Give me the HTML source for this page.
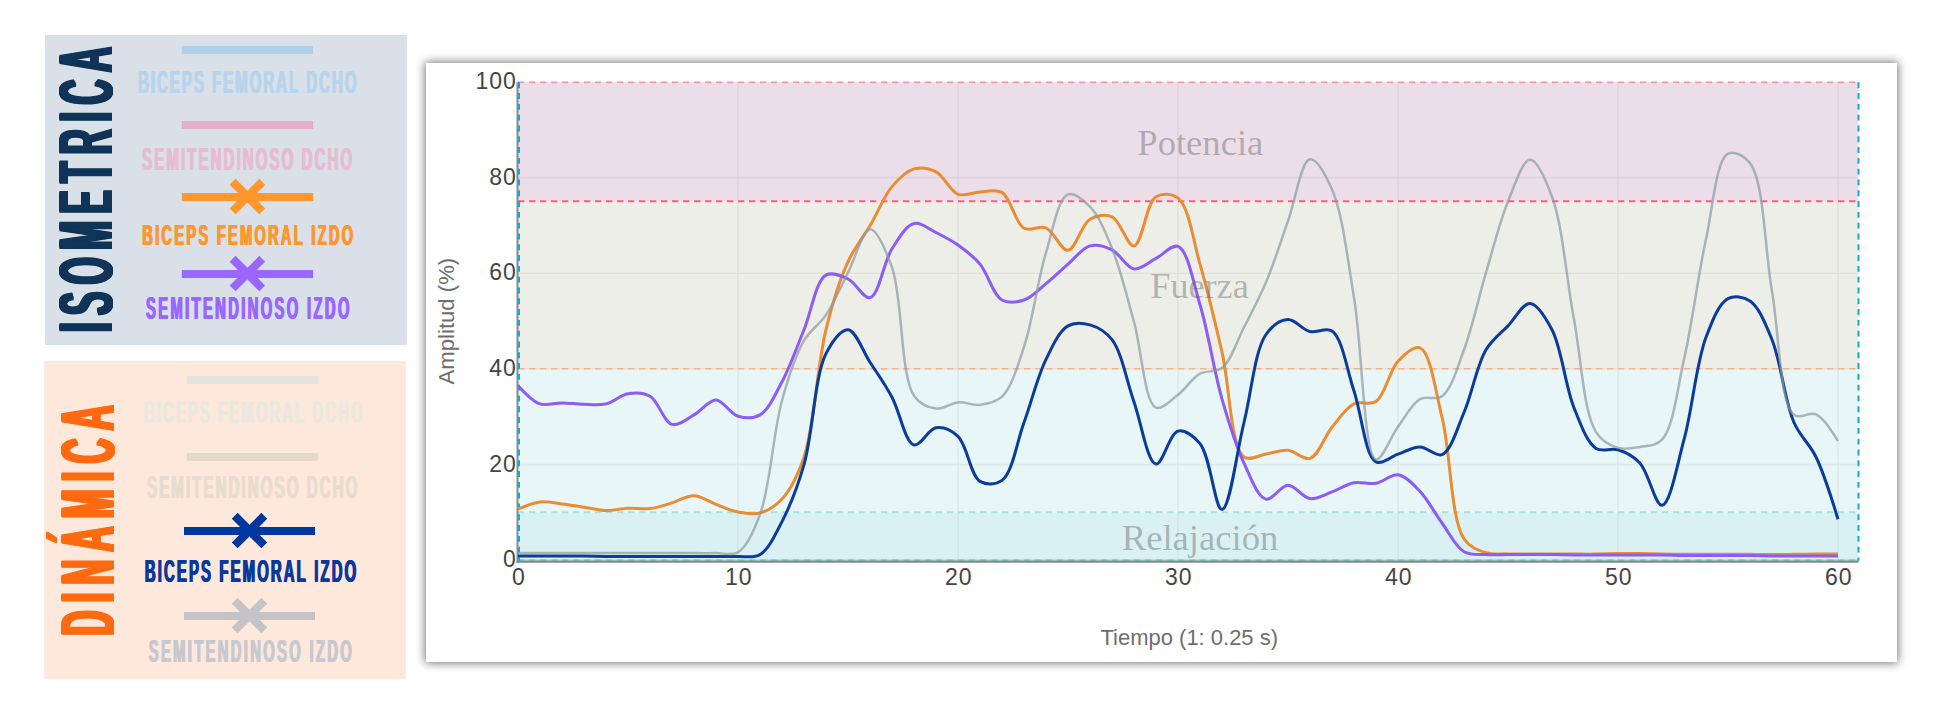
<!DOCTYPE html>
<html><head><meta charset="utf-8"><title>EMG</title>
<style>
html,body{margin:0;padding:0;background:#fff;}
body{width:1934px;height:728px;position:relative;overflow:hidden;font-family:"Liberation Sans",sans-serif;}
.p1{position:absolute;left:45px;top:35px;width:362px;height:310px;background:#d9e0e8;}
.p2{position:absolute;left:44px;top:361px;width:362px;height:318px;background:#fee8dc;}
.card{position:absolute;left:426px;top:63px;width:1471px;height:599px;background:#fff;box-shadow:0 0 9px 1px rgba(0,0,0,0.55);}
svg{position:absolute;left:0;top:0;}
.cond{font-family:"Liberation Sans",sans-serif;font-weight:bold;font-kerning:none;}
.tick{font-family:"Liberation Sans",sans-serif;font-size:23px;fill:#444;}
.ttl{font-family:"Liberation Sans",sans-serif;font-size:22px;fill:#6e6e6e;}
.zone{font-family:"Liberation Serif",serif;font-size:36px;text-anchor:middle;}
</style></head><body>
<div class="p1"></div><div class="p2"></div><div class="card"></div>
<svg width="1934" height="728" viewBox="0 0 1934 728">
<rect x="181.8" y="46.0" width="131.3" height="8" fill="#b0d0e8"/>
<g transform="translate(137.50,93.30)" fill="#b8d4ec"><text class="cond" transform="translate(0.00,0) scale(0.4800,1)" font-size="31.37" letter-spacing="4.08">BICEPS FEMORAL DCHO</text><text class="cond" transform="translate(0.55,0) scale(0.4800,1)" font-size="31.37" letter-spacing="4.08">BICEPS FEMORAL DCHO</text><text class="cond" transform="translate(1.10,0) scale(0.4800,1)" font-size="31.37" letter-spacing="4.08">BICEPS FEMORAL DCHO</text></g>
<rect x="181.8" y="121.0" width="131.3" height="8" fill="#e4b0c8"/>
<g transform="translate(141.60,169.50)" fill="#e8bcd0"><text class="cond" transform="translate(0.00,0) scale(0.4800,1)" font-size="31.37" letter-spacing="4.32">SEMITENDINOSO DCHO</text><text class="cond" transform="translate(0.55,0) scale(0.4800,1)" font-size="31.37" letter-spacing="4.32">SEMITENDINOSO DCHO</text><text class="cond" transform="translate(1.10,0) scale(0.4800,1)" font-size="31.37" letter-spacing="4.32">SEMITENDINOSO DCHO</text></g>
<rect x="181.8" y="193.0" width="131.3" height="8" fill="#ff962e"/>
<path d="M232.6,181.8L262.2,211.4M232.6,211.4L262.2,181.8" stroke="#ff962e" stroke-width="8.3" fill="none"/>
<g transform="translate(141.80,245.20)" fill="#ff962e"><text class="cond" transform="translate(0.00,0) scale(0.4800,1)" font-size="30.22" letter-spacing="4.91">BICEPS FEMORAL IZDO</text><text class="cond" transform="translate(0.55,0) scale(0.4800,1)" font-size="30.22" letter-spacing="4.91">BICEPS FEMORAL IZDO</text><text class="cond" transform="translate(1.10,0) scale(0.4800,1)" font-size="30.22" letter-spacing="4.91">BICEPS FEMORAL IZDO</text></g>
<rect x="181.8" y="270.0" width="131.3" height="8" fill="#9966ff"/>
<path d="M232.6,258.8L262.2,288.4M232.6,288.4L262.2,258.8" stroke="#9966ff" stroke-width="8.3" fill="none"/>
<g transform="translate(145.50,319.20)" fill="#9966ff"><text class="cond" transform="translate(0.00,0) scale(0.4800,1)" font-size="30.65" letter-spacing="4.99">SEMITENDINOSO IZDO</text><text class="cond" transform="translate(0.55,0) scale(0.4800,1)" font-size="30.65" letter-spacing="4.99">SEMITENDINOSO IZDO</text><text class="cond" transform="translate(1.10,0) scale(0.4800,1)" font-size="30.65" letter-spacing="4.99">SEMITENDINOSO IZDO</text></g>
<rect x="186.8" y="376.0" width="131.5" height="8" fill="#e4e4dc"/>
<g transform="translate(143.30,423.40)" fill="#ece8e0"><text class="cond" transform="translate(0.00,0) scale(0.4800,1)" font-size="31.22" letter-spacing="4.21">BICEPS FEMORAL DCHO</text><text class="cond" transform="translate(0.55,0) scale(0.4800,1)" font-size="31.22" letter-spacing="4.21">BICEPS FEMORAL DCHO</text><text class="cond" transform="translate(1.10,0) scale(0.4800,1)" font-size="31.22" letter-spacing="4.21">BICEPS FEMORAL DCHO</text></g>
<rect x="186.8" y="453.0" width="131.5" height="8" fill="#e4d8c8"/>
<g transform="translate(146.50,497.80)" fill="#e8dcd0"><text class="cond" transform="translate(0.00,0) scale(0.4800,1)" font-size="31.37" letter-spacing="4.36">SEMITENDINOSO DCHO</text><text class="cond" transform="translate(0.55,0) scale(0.4800,1)" font-size="31.37" letter-spacing="4.36">SEMITENDINOSO DCHO</text><text class="cond" transform="translate(1.10,0) scale(0.4800,1)" font-size="31.37" letter-spacing="4.36">SEMITENDINOSO DCHO</text></g>
<rect x="184.0" y="527.0" width="131.0" height="8" fill="#0038a0"/>
<path d="M234.7,515.8L264.3,545.4M234.7,545.4L264.3,515.8" stroke="#0038a0" stroke-width="8.3" fill="none"/>
<g transform="translate(144.30,581.50)" fill="#0c389c"><text class="cond" transform="translate(0.00,0) scale(0.4800,1)" font-size="30.94" letter-spacing="4.51">BICEPS FEMORAL IZDO</text><text class="cond" transform="translate(0.55,0) scale(0.4800,1)" font-size="30.94" letter-spacing="4.51">BICEPS FEMORAL IZDO</text><text class="cond" transform="translate(1.10,0) scale(0.4800,1)" font-size="30.94" letter-spacing="4.51">BICEPS FEMORAL IZDO</text></g>
<rect x="184.0" y="612.0" width="131.0" height="8" fill="#c4c4c8"/>
<path d="M234.7,600.8L264.3,630.4M234.7,630.4L264.3,600.8" stroke="#c4c4c8" stroke-width="8.3" fill="none"/>
<g transform="translate(148.20,662.40)" fill="#c8c8d0"><text class="cond" transform="translate(0.00,0) scale(0.4800,1)" font-size="30.79" letter-spacing="4.86">SEMITENDINOSO IZDO</text><text class="cond" transform="translate(0.55,0) scale(0.4800,1)" font-size="30.79" letter-spacing="4.86">SEMITENDINOSO IZDO</text><text class="cond" transform="translate(1.10,0) scale(0.4800,1)" font-size="30.79" letter-spacing="4.86">SEMITENDINOSO IZDO</text></g>
<g transform="translate(112.20,333.60) rotate(-90)" fill="#0f3458"><text class="cond" transform="translate(0.00,0) scale(0.4600,1)" font-size="75.29" letter-spacing="16.38">ISOMETRICA</text><text class="cond" transform="translate(0.50,0) scale(0.4600,1)" font-size="75.29" letter-spacing="16.38">ISOMETRICA</text><text class="cond" transform="translate(1.00,0) scale(0.4600,1)" font-size="75.29" letter-spacing="16.38">ISOMETRICA</text><text class="cond" transform="translate(1.50,0) scale(0.4600,1)" font-size="75.29" letter-spacing="16.38">ISOMETRICA</text><text class="cond" transform="translate(2.00,0) scale(0.4600,1)" font-size="75.29" letter-spacing="16.38">ISOMETRICA</text><text class="cond" transform="translate(2.50,0) scale(0.4600,1)" font-size="75.29" letter-spacing="16.38">ISOMETRICA</text><text class="cond" transform="translate(3.00,0) scale(0.4600,1)" font-size="75.29" letter-spacing="16.38">ISOMETRICA</text></g>
<g transform="translate(113.80,637.00) rotate(-90)" fill="#ff6a10"><text class="cond" transform="translate(0.00,0) scale(0.4600,1)" font-size="75.14" letter-spacing="17.82">DINÁMICA</text><text class="cond" transform="translate(0.50,0) scale(0.4600,1)" font-size="75.14" letter-spacing="17.82">DINÁMICA</text><text class="cond" transform="translate(1.00,0) scale(0.4600,1)" font-size="75.14" letter-spacing="17.82">DINÁMICA</text><text class="cond" transform="translate(1.50,0) scale(0.4600,1)" font-size="75.14" letter-spacing="17.82">DINÁMICA</text><text class="cond" transform="translate(2.00,0) scale(0.4600,1)" font-size="75.14" letter-spacing="17.82">DINÁMICA</text><text class="cond" transform="translate(2.50,0) scale(0.4600,1)" font-size="75.14" letter-spacing="17.82">DINÁMICA</text><text class="cond" transform="translate(3.00,0) scale(0.4600,1)" font-size="75.14" letter-spacing="17.82">DINÁMICA</text></g>
<rect x="518.0" y="82.30" width="1340.5" height="119.62" fill="#ecdee8"/>
<rect x="518.0" y="201.92" width="1340.5" height="167.48" fill="#edeee8"/>
<rect x="518.0" y="369.40" width="1340.5" height="143.55" fill="#e8f6f8"/>
<rect x="518.0" y="512.95" width="1340.5" height="47.85" fill="#daf1f4"/>
<path d="M738.0,82.3V560.8M958.0,82.3V560.8M1178.0,82.3V560.8M1398.0,82.3V560.8M1618.0,82.3V560.8M1838.0,82.3V560.8M518.0,464.60H1858.5M518.0,368.90H1858.5M518.0,273.20H1858.5M518.0,177.50H1858.5" stroke="rgba(0,0,0,0.048)" stroke-width="1.6" fill="none"/>
<path d="M518.0,82.30H1858.5" stroke="#f88cb4" stroke-width="1.6" stroke-dasharray="6.3 4.7" fill="none"/>
<path d="M518.0,201.32H1858.5" stroke="#fa5f7d" stroke-width="2" stroke-dasharray="6.3 4.7" fill="none"/>
<path d="M518.0,368.80H1858.5" stroke="#f3b488" stroke-width="1.5" stroke-dasharray="6.3 4.7" fill="none"/>
<path d="M518.0,512.35H1858.5" stroke="#a4e2e0" stroke-width="2" stroke-dasharray="6.3 4.7" fill="none"/>
<path d="M518.0,560.50H1858.5" stroke="#9ad2cf" stroke-width="2" fill="none"/>
<path d="M518.0,560.50H1858.5" stroke="#78bfba" stroke-width="2" stroke-dasharray="6.3 4.7" fill="none"/>
<path d="M517.5,82.3V562.8" stroke="#8a8a8a" stroke-width="2" fill="none"/>
<path d="M516.5,561.8H1858.5" stroke="#888" stroke-width="2.1" fill="none"/>
<path d="M519,82.3V560.8" stroke="#14aac8" stroke-width="2" stroke-dasharray="5.9 4.9" fill="none"/>
<path d="M1858.5,82.3V560.8" stroke="#14aac8" stroke-width="2" stroke-dasharray="5.9 4.9" fill="none"/>
<g fill="none" stroke-linejoin="round" stroke-linecap="butt">
<path d="M518.0,509.1Q532.6,502.8 540.0,501.9C547.2,501.1 554.7,503.0 562.0,503.9C569.3,504.7 576.7,506.1 584.0,507.2C591.3,508.3 598.7,510.4 606.0,510.6C613.3,510.7 620.7,508.5 628.0,508.2C635.3,507.8 642.7,509.5 650.0,508.6C657.4,507.8 664.7,505.0 672.0,502.9C679.4,500.7 686.7,495.5 694.0,495.7C701.4,495.9 708.6,501.6 716.0,504.3C723.3,507.0 730.6,510.6 738.0,512.0C745.2,513.4 752.9,514.8 760.0,512.9C767.7,510.9 775.5,506.1 782.0,499.1C790.8,489.5 797.8,475.4 804.0,457.0C814.3,426.5 817.2,365.2 826.0,329.7C832.5,303.2 839.4,280.4 848.0,261.7C854.6,247.4 862.8,238.2 870.0,225.8C877.5,213.1 883.6,196.6 892.0,186.6C898.7,178.7 906.2,171.1 914.0,168.9C920.9,167.0 929.2,168.4 936.0,171.8C944.1,175.8 949.9,191.4 958.0,194.3C964.8,196.7 972.7,192.2 980.0,191.9C987.3,191.6 995.5,188.6 1002.0,192.4C1011.0,197.5 1015.0,223.4 1024.0,228.2C1030.5,231.8 1039.2,225.0 1046.0,227.8C1054.1,231.1 1061.0,250.8 1068.0,250.3C1075.7,249.6 1081.4,224.2 1090.0,219.2C1096.6,215.3 1105.4,213.9 1112.0,216.8C1120.5,220.4 1127.3,246.7 1134.0,245.9C1142.2,245.0 1146.1,202.6 1156.0,196.7C1162.3,192.9 1171.8,193.3 1178.0,198.1C1189.0,206.6 1193.1,240.4 1200.0,264.1C1207.9,291.2 1214.9,321.5 1222.0,352.2C1229.7,385.5 1230.6,447.5 1244.0,457.0C1250.1,461.3 1258.7,455.2 1266.0,454.1C1273.3,453.0 1280.8,449.6 1288.0,450.3C1295.4,450.9 1303.4,460.5 1310.0,458.4C1318.5,455.8 1324.3,436.7 1332.0,427.3C1339.0,418.7 1345.8,407.9 1354.0,403.9C1360.8,400.5 1369.6,405.7 1376.0,401.5C1385.2,395.3 1389.3,370.4 1398.0,361.3C1404.5,354.4 1413.8,345.5 1420.0,347.9C1430.5,351.8 1435.4,390.7 1442.0,417.2C1450.6,451.9 1450.7,519.1 1464.0,538.8C1470.1,547.8 1478.3,550.2 1486.0,552.7C1493.1,554.9 1500.7,553.6 1508.0,553.9C1515.3,554.1 1522.7,554.1 1530.0,554.1C1537.3,554.1 1544.7,554.1 1552.0,554.1C1559.3,554.1 1566.7,554.1 1574.0,554.1C1581.3,554.1 1588.7,554.2 1596.0,554.1C1603.3,554.0 1610.7,553.7 1618.0,553.6C1625.3,553.5 1632.7,553.5 1640.0,553.6C1647.3,553.7 1654.7,554.0 1662.0,554.1C1669.3,554.2 1676.7,554.3 1684.0,554.3C1691.3,554.4 1698.7,554.3 1706.0,554.3C1713.3,554.3 1720.7,554.3 1728.0,554.3C1735.3,554.3 1742.7,554.3 1750.0,554.3C1757.3,554.4 1764.7,554.6 1772.0,554.6C1779.3,554.6 1786.7,554.4 1794.0,554.3C1801.3,554.3 1808.7,554.1 1816.0,554.1Q1823.3,554.1 1838.0,554.1" stroke="#ea8c32" stroke-width="3"/>
<path d="M518.0,385.7Q532.1,401.2 540.0,403.9C546.9,406.2 554.7,402.8 562.0,402.9C569.3,403.0 576.7,404.2 584.0,404.3C591.3,404.5 598.8,405.5 606.0,403.9C613.5,402.1 620.5,395.0 628.0,393.8C635.2,392.6 643.4,392.5 650.0,396.2C658.4,400.9 663.8,422.3 672.0,424.4C678.7,426.1 686.8,418.8 694.0,414.9C701.5,410.7 708.7,399.9 716.0,400.0C723.4,400.2 730.2,414.0 738.0,416.3C745.0,418.3 753.5,418.6 760.0,414.9C768.8,409.8 775.2,394.5 782.0,381.8C790.1,366.8 796.7,347.3 804.0,329.7C811.4,311.7 815.8,280.8 826.0,275.1C832.3,271.7 841.1,275.7 848.0,279.0C855.9,282.6 863.5,299.1 870.0,297.6C878.9,295.6 883.6,262.0 892.0,248.8C898.7,238.4 905.9,225.4 914.0,223.5C920.8,221.8 928.8,229.0 936.0,232.5C943.4,236.2 950.9,240.0 958.0,245.0C965.6,250.4 973.2,256.1 980.0,264.1C988.1,273.7 993.0,295.0 1002.0,300.0C1008.5,303.6 1017.0,302.3 1024.0,300.0C1031.8,297.5 1038.8,289.6 1046.0,283.7C1053.5,277.7 1060.6,270.5 1068.0,264.1C1075.3,257.9 1082.2,248.0 1090.0,245.9C1096.9,244.1 1105.1,246.5 1112.0,249.8C1119.9,253.5 1126.3,267.9 1134.0,268.9C1141.0,269.9 1148.7,262.1 1156.0,258.4C1163.4,254.6 1171.7,244.1 1178.0,246.4C1187.9,250.1 1193.3,282.8 1200.0,304.8C1208.3,332.2 1213.9,370.8 1222.0,399.1C1228.8,422.7 1235.6,445.3 1244.0,463.2C1250.6,477.3 1257.5,497.1 1266.0,499.1C1272.6,500.6 1280.6,485.3 1288.0,485.2C1295.3,485.1 1302.4,497.6 1310.0,498.6C1317.1,499.5 1324.7,494.5 1332.0,491.9C1339.4,489.2 1346.5,484.2 1354.0,482.8C1361.2,481.5 1368.8,484.6 1376.0,483.3C1383.5,482.0 1390.9,473.7 1398.0,474.7C1405.6,475.7 1413.2,484.3 1420.0,491.4C1428.0,499.8 1434.5,512.8 1442.0,523.0C1449.2,532.9 1455.5,546.8 1464.0,551.7C1470.6,555.5 1478.7,554.1 1486.0,554.6C1493.3,555.1 1500.7,554.6 1508.0,554.6C1515.3,554.6 1522.7,554.6 1530.0,554.6C1537.3,554.6 1544.7,554.5 1552.0,554.6C1559.3,554.7 1566.7,555.0 1574.0,555.1C1581.3,555.1 1588.7,555.1 1596.0,555.1C1603.3,555.1 1610.7,555.1 1618.0,555.1C1625.3,555.1 1632.7,555.1 1640.0,555.1C1647.3,555.1 1654.7,555.0 1662.0,555.1C1669.3,555.1 1676.7,555.5 1684.0,555.5C1691.3,555.6 1698.7,555.5 1706.0,555.5C1713.3,555.5 1720.7,555.5 1728.0,555.5C1735.3,555.5 1742.7,555.5 1750.0,555.5C1757.3,555.6 1764.7,555.9 1772.0,556.0C1779.3,556.1 1786.7,556.0 1794.0,556.0C1801.3,556.0 1808.7,556.0 1816.0,556.0Q1823.3,556.0 1838.0,556.0" stroke="#8b5cf6" stroke-width="3"/>
<path d="M518.0,556.0Q532.7,556.0 540.0,556.0C547.3,556.0 554.7,556.0 562.0,556.0C569.3,556.0 576.7,555.9 584.0,556.0C591.3,556.1 598.7,556.4 606.0,556.5C613.3,556.6 620.7,556.5 628.0,556.5C635.3,556.5 642.7,556.5 650.0,556.5C657.3,556.5 664.7,556.5 672.0,556.5C679.3,556.5 686.7,556.5 694.0,556.5C701.3,556.5 708.7,556.5 716.0,556.5C723.3,556.5 730.7,556.8 738.0,556.5C745.3,556.2 753.5,558.5 760.0,554.6C768.8,549.4 775.3,534.5 782.0,521.6C790.3,505.5 797.5,487.1 804.0,464.6C812.9,434.1 814.5,376.2 826.0,353.6C832.1,341.5 841.0,329.2 848.0,329.7C855.7,330.3 862.8,351.1 870.0,362.2C877.4,373.6 885.1,384.3 892.0,397.2C899.8,411.6 905.1,442.8 914.0,445.0C920.5,446.6 928.3,428.9 936.0,427.8C943.1,426.7 951.6,430.5 958.0,436.4C967.3,445.0 970.4,475.7 980.0,481.4C986.3,485.1 995.8,484.9 1002.0,480.4C1012.4,472.9 1016.8,442.3 1024.0,422.5C1031.5,402.0 1037.5,376.7 1046.0,359.4C1052.6,345.9 1059.2,330.9 1068.0,325.9C1074.5,322.1 1083.0,322.9 1090.0,324.9C1097.7,327.1 1105.7,331.6 1112.0,339.7C1121.9,352.6 1126.7,381.2 1134.0,401.9C1141.3,422.7 1147.5,463.1 1156.0,464.1C1162.6,465.0 1169.6,433.1 1178.0,431.1C1184.7,429.5 1193.8,436.0 1200.0,443.6C1210.4,456.1 1215.1,509.9 1222.0,509.6C1229.9,509.3 1236.7,451.6 1244.0,422.5C1251.4,393.3 1254.6,350.7 1266.0,334.5C1272.2,325.7 1280.6,320.0 1288.0,319.6C1295.2,319.3 1302.4,329.8 1310.0,331.6C1317.1,333.3 1325.8,326.9 1332.0,331.1C1342.6,338.3 1346.9,370.1 1354.0,390.9C1361.6,413.4 1365.0,456.2 1376.0,461.8C1382.2,464.9 1390.7,456.6 1398.0,454.1C1405.3,451.6 1412.7,446.8 1420.0,446.9C1427.3,447.0 1435.6,457.1 1442.0,454.6C1451.2,450.9 1457.2,428.2 1464.0,412.5C1472.1,393.9 1476.8,365.1 1486.0,349.8C1492.4,339.1 1500.6,333.7 1508.0,325.9C1515.3,318.2 1522.8,303.1 1530.0,303.4C1537.5,303.7 1545.7,317.7 1552.0,329.7C1561.7,348.1 1565.3,386.3 1574.0,407.7C1580.6,423.9 1586.7,442.4 1596.0,448.4C1602.4,452.5 1610.9,447.6 1618.0,449.8C1625.6,452.2 1633.5,456.2 1640.0,463.2C1648.8,472.6 1655.2,505.8 1662.0,505.3C1670.2,504.6 1677.3,464.2 1684.0,439.7C1692.3,409.6 1696.3,362.8 1706.0,337.3C1712.3,320.7 1718.9,303.3 1728.0,298.6C1734.4,295.3 1743.6,296.7 1750.0,301.0C1759.1,307.0 1765.5,323.9 1772.0,339.7C1781.0,361.7 1784.7,401.4 1794.0,422.5C1800.4,437.1 1809.4,443.4 1816.0,457.0Q1824.4,474.3 1838.0,519.2" stroke="#0a3c9a" stroke-width="3"/>
<path d="M518.0,553.1Q532.7,553.1 540.0,553.1C547.3,553.1 554.7,553.1 562.0,553.1C569.3,553.1 576.7,553.1 584.0,553.1C591.3,553.1 598.7,553.1 606.0,553.1C613.3,553.1 620.7,553.1 628.0,553.1C635.3,553.1 642.7,553.1 650.0,553.1C657.3,553.1 664.7,553.1 672.0,553.1C679.3,553.1 686.7,553.1 694.0,553.1C701.3,553.1 708.7,553.3 716.0,553.1C723.3,553.0 731.6,556.1 738.0,552.2C747.1,546.7 753.7,531.1 760.0,514.4C770.2,487.2 773.2,432.1 782.0,400.5C788.5,377.1 795.1,355.9 804.0,340.7C810.5,329.6 819.2,325.0 826.0,314.9C834.1,302.9 840.7,286.9 848.0,272.7C855.4,258.4 862.5,229.4 870.0,229.2C877.2,229.0 885.8,250.3 892.0,267.5C902.7,297.1 900.3,375.9 914.0,395.7C920.1,404.5 928.5,407.7 936.0,408.6C943.1,409.6 950.6,403.0 958.0,402.4C965.3,401.8 972.8,405.7 980.0,404.8C987.4,403.9 995.7,402.6 1002.0,396.7C1011.6,387.6 1017.5,366.5 1024.0,346.9C1032.7,320.8 1037.7,280.1 1046.0,252.6C1052.7,230.6 1058.1,197.9 1068.0,194.3C1074.3,192.0 1083.5,200.0 1090.0,206.7C1098.9,215.8 1105.4,232.1 1112.0,248.3C1120.5,269.1 1126.9,296.5 1134.0,322.0C1141.6,349.4 1144.6,402.9 1156.0,407.7C1162.1,410.2 1171.0,400.1 1178.0,394.8C1185.7,389.0 1192.0,378.1 1200.0,373.7C1206.9,369.9 1215.6,373.0 1222.0,368.0C1231.2,360.8 1236.8,341.3 1244.0,327.3C1251.5,312.8 1259.1,298.7 1266.0,282.3C1273.9,263.7 1280.7,241.5 1288.0,221.1C1295.3,200.5 1301.3,160.6 1310.0,159.3C1316.6,158.4 1325.8,175.4 1332.0,189.5C1342.7,213.7 1347.3,257.8 1354.0,297.6C1362.2,346.0 1363.6,456.4 1376.0,459.4C1382.1,460.8 1390.5,437.1 1398.0,426.8C1405.2,417.1 1411.6,403.8 1420.0,399.1C1426.7,395.3 1435.7,400.8 1442.0,396.2C1451.6,389.2 1457.3,367.5 1464.0,349.8C1472.3,327.6 1478.5,297.9 1486.0,272.7C1493.2,248.5 1499.6,221.7 1508.0,201.4C1514.7,185.4 1522.5,160.0 1530.0,159.8C1537.2,159.6 1545.8,180.0 1552.0,196.7C1562.6,225.0 1566.5,279.6 1574.0,319.6C1581.2,358.0 1583.5,412.5 1596.0,432.1C1602.1,441.6 1610.2,445.6 1618.0,447.9C1625.0,450.0 1632.8,448.2 1640.0,446.9C1647.4,445.6 1655.9,446.2 1662.0,439.7C1673.6,427.5 1677.2,389.0 1684.0,359.4C1692.2,323.5 1698.0,275.8 1706.0,239.2C1712.8,208.2 1716.2,159.3 1728.0,153.6C1734.1,150.6 1743.9,155.4 1750.0,163.2C1764.2,181.2 1764.6,249.1 1772.0,291.4C1779.3,333.0 1779.5,403.0 1794.0,414.9C1800.1,419.8 1809.3,411.3 1816.0,414.4Q1824.4,418.2 1838.0,441.2" stroke="rgba(142,152,160,0.7)" stroke-width="2.5"/>
</g>
<g fill="#5c5c5c" fill-opacity="0.41">
<text class="zone" x="1200.3" y="154.5" textLength="126" lengthAdjust="spacingAndGlyphs">Potencia</text>
<text class="zone" x="1199.5" y="297.9" textLength="98.5" lengthAdjust="spacingAndGlyphs">Fuerza</text>
<text class="zone" x="1200" y="549.7" textLength="156.5" lengthAdjust="spacingAndGlyphs">Relajación</text>
</g>
<text class="tick" x="516.6" y="567.4" text-anchor="end" letter-spacing="0.9">0</text>
<text class="tick" x="516.6" y="471.7" text-anchor="end" letter-spacing="0.9">20</text>
<text class="tick" x="516.6" y="376.0" text-anchor="end" letter-spacing="0.9">40</text>
<text class="tick" x="516.6" y="280.3" text-anchor="end" letter-spacing="0.9">60</text>
<text class="tick" x="516.6" y="184.6" text-anchor="end" letter-spacing="0.9">80</text>
<text class="tick" x="516.6" y="88.9" text-anchor="end" letter-spacing="0.9">100</text>
<text class="tick" x="518.8" y="584.7" text-anchor="middle" letter-spacing="0.9">0</text>
<text class="tick" x="738.8" y="584.7" text-anchor="middle" letter-spacing="0.9">10</text>
<text class="tick" x="958.8" y="584.7" text-anchor="middle" letter-spacing="0.9">20</text>
<text class="tick" x="1178.8" y="584.7" text-anchor="middle" letter-spacing="0.9">30</text>
<text class="tick" x="1398.8" y="584.7" text-anchor="middle" letter-spacing="0.9">40</text>
<text class="tick" x="1618.8" y="584.7" text-anchor="middle" letter-spacing="0.9">50</text>
<text class="tick" x="1838.8" y="584.7" text-anchor="middle" letter-spacing="0.9">60</text>
<text class="ttl" x="1100.5" y="644.6" textLength="177.5" lengthAdjust="spacingAndGlyphs">Tiempo (1: 0.25 s)</text>
<text class="ttl" transform="translate(454.4,384.4) rotate(-90)" textLength="126.6" lengthAdjust="spacingAndGlyphs">Amplitud (%)</text>
</svg>
</body></html>
